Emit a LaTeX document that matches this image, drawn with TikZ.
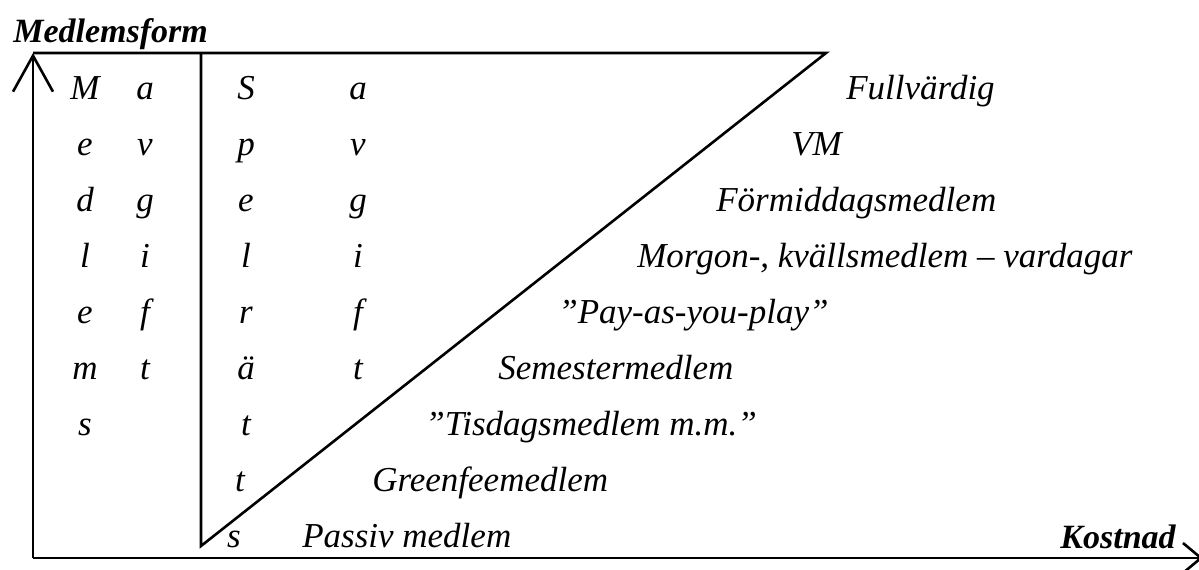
\documentclass[tikz,border=0pt]{standalone}
\usepackage{fontspec}
\setmainfont{Liberation Serif}
\usetikzlibrary{arrows.meta}
\begin{document}
\begin{tikzpicture}[x=1pt,y=-1pt,line width=2.6pt]
        \tikzstyle{lbl} = [font=\fontsize{35}{40}\selectfont\itshape,inner sep=0pt]
        \tikzstyle{axlbl} = [font=\fontsize{34}{40}\selectfont\bfseries\itshape,inner sep=0pt]
        \tikzstyle{barb} = [-{Straight Barb[length=36pt,width=40pt]}]
        \useasboundingbox (0,0) rectangle (1199,570);
        \coordinate (O) at (33,558);
        \coordinate (ytop) at (33,53);
        \coordinate (xend) at (1203,558);
        \coordinate (apex) at (826,53);
        \coordinate (ctop) at (201,53);
        \coordinate (cbot) at (201,546);
        \draw[barb] (O) -- (ytop);
        \draw[-{Straight Barb[length=18pt,width=30pt]}] (O) -- (xend);
        \draw (ytop) -- (apex) -- (cbot) -- (ctop);
        \node[axlbl,anchor=base west] (yl) at (12,42) {Medlemsform};
        \node[axlbl,anchor=base east] (xl) at (1177,548) {Kostnad};
        % vertical words
        \foreach \l [count=\i] in {M,e,d,l,e,m,s}{
          \node[lbl,anchor=base] (ma\i) at (85,{43+56*\i}) {\l};
        }
        \foreach \l [count=\i] in {a,v,g,i,f,t}{
          \node[lbl,anchor=base] (mb\i) at (145,{43+56*\i}) {\l};
          \node[lbl,anchor=base] (sb\i) at (358,{43+56*\i}) {\l};
        }
        \foreach \x/\l [count=\i] in {246/S,246/p,246/e,246/l,246/r,246/ä,246/t,240/t,234/s}{
          \node[lbl,anchor=base] (sa\i) at (\x,{43+56*\i}) {\l};
        }
        % member forms
        \foreach \x/\t [count=\i] in {845/Fullvärdig,790/VM,715/Förmiddagsmedlem,
            636/{Morgon-, kvällsmedlem – vardagar},557/”Pay-as-you-play”,497/Semestermedlem,
            424/”Tisdagsmedlem m.m.”,371/Greenfeemedlem,301/Passiv medlem}{
          \node[lbl,anchor=base west] (f\i) at (\x,{43+56*\i}) {\t};
        }
      \end{tikzpicture}
\end{document}
